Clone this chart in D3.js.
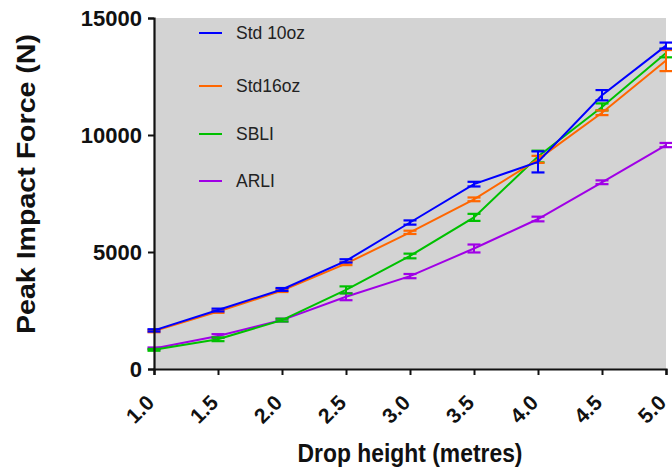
<!DOCTYPE html>
<html>
<head>
<meta charset="utf-8">
<script src="https://cdn.jsdelivr.net/npm/d3@7"></script>
<style>
  body { margin: 0; background: #fff; }
  svg { font-family: "Liberation Sans", Arial, Helvetica, sans-serif; }
</style>
</head>
<body>
<svg id="chart" width="672" height="469"></svg>
<script>
// drop heights (m)
var heights = [1.0, 1.5, 2.0, 2.5, 3.0, 3.5, 4.0, 4.5, 5.0];
var xTicks = ["1.0", "1.5", "2.0", "2.5", "3.0", "3.5", "4.0", "4.5", "5.0"];
var yTicks = [0, 5000, 10000, 15000];

// mean peak force (N) and error per series
var std10 = [1650, 2520, 3400, 4620, 6260, 7900, 8850, 11700, 13820];
var std10Err = [50, 60, 60, 70, 90, 100, 450, 220, 130];
var std16 = [1620, 2450, 3350, 4500, 5840, 7250, 8960, 10950, 13180];
var std16Err = [50, 50, 60, 60, 70, 80, 150, 100, 450];
var sbli = [820, 1270, 2090, 3380, 4830, 6480, 9080, 11200, 13500];
var sbliErr = [40, 80, 60, 150, 100, 150, 250, 150, 180];
var arli = [880, 1410, 2090, 3090, 3970, 5150, 6410, 7980, 9570];
var arliErr = [40, 80, 60, 150, 90, 170, 100, 80, 90];

var names = ["Std 10oz", "Std16oz", "SBLI", "ARLI"];
var colors = ["#0000ff", "#ff6600", "#00c000", "#a000e6"];

(function () {
  var series = [
    { name: names[0], v: std10, e: std10Err, c: colors[0] },
    { name: names[1], v: std16, e: std16Err, c: colors[1] },
    { name: names[2], v: sbli, e: sbliErr, c: colors[2] },
    { name: names[3], v: arli, e: arliErr, c: colors[3] }
  ];

  var svg = d3.select("#chart");
  var pLeft = 154, pRight = 666, pTop = 18, pBottom = 369;

  var x = d3.scaleLinear().domain([1, 5]).range([pLeft, pRight]);
  var y = d3.scaleLinear().domain([0, 15000]).range([pBottom, pTop]);

  // grey plot area
  svg.append("rect")
    .attr("x", pLeft).attr("y", pTop)
    .attr("width", pRight - pLeft).attr("height", pBottom - pTop)
    .attr("fill", "#d3d3d3");

  // lines + error bars, ARLI first so Std 10oz ends up on top
  var line = d3.line().x(function (d) { return x(d[0]); }).y(function (d) { return y(d[1]); });
  series.slice().reverse().forEach(function (s) {
    var pts = heights.map(function (h, i) { return [h, s.v[i], s.e[i]]; });
    var g = svg.append("g");
    g.append("path").datum(pts)
      .attr("d", line).attr("fill", "none")
      .attr("stroke", s.c).attr("stroke-width", 2);
    var eb = g.selectAll(".eb").data(pts).enter().append("g");
    eb.append("line")
      .attr("x1", function (d) { return x(d[0]); }).attr("x2", function (d) { return x(d[0]); })
      .attr("y1", function (d) { return y(d[1] - d[2]); }).attr("y2", function (d) { return y(d[1] + d[2]); })
      .attr("stroke", s.c).attr("stroke-width", 2);
    [-1, 1].forEach(function (sg) {
      eb.append("line")
        .attr("x1", function (d) { return x(d[0]) - 6.5; }).attr("x2", function (d) { return x(d[0]) + 6.5; })
        .attr("y1", function (d) { return y(d[1] + sg * d[2]); }).attr("y2", function (d) { return y(d[1] + sg * d[2]); })
        .attr("stroke", s.c).attr("stroke-width", 2.2);
    });
  });

  // axes
  var yAxis = svg.append("g").attr("transform", "translate(" + pLeft + ",0)")
    .call(d3.axisLeft(y).tickValues(yTicks).tickSize(6).tickPadding(6).tickFormat(d3.format("d")));
  var xAxis = svg.append("g").attr("transform", "translate(0," + pBottom + ")")
    .call(d3.axisBottom(x).tickValues(heights).tickSize(6).tickFormat(function (d, i) { return xTicks[i]; }));

  [yAxis, xAxis].forEach(function (a) {
    a.select(".domain").attr("stroke", "#111").attr("stroke-width", 2.2);
    a.selectAll(".tick line").attr("stroke", "#111").attr("stroke-width", 2);
  });
  yAxis.selectAll(".tick text")
    .attr("font-size", 22).attr("font-weight", "bold").attr("fill", "#111")
    .attr("font-family", "'Liberation Sans', Arial, sans-serif");
  xAxis.selectAll(".tick text")
    .attr("font-size", 21).attr("font-weight", "bold").attr("fill", "#111")
    .attr("font-family", "'Liberation Sans', Arial, sans-serif")
    .attr("text-anchor", "end").attr("dy", null).attr("y", 0)
    .attr("transform", "translate(1,35) rotate(-45)");

  // axis titles
  svg.append("text")
    .attr("transform", "translate(35,184) rotate(-90)")
    .attr("text-anchor", "middle")
    .attr("font-size", 25).attr("font-weight", "bold").attr("fill", "#111")
    .attr("textLength", 300).attr("lengthAdjust", "spacingAndGlyphs")
    .text("Peak Impact Force (N)");
  svg.append("text")
    .attr("x", 410).attr("y", 462)
    .attr("text-anchor", "middle")
    .attr("font-size", 25).attr("font-weight", "bold").attr("fill", "#111")
    .attr("textLength", 225).attr("lengthAdjust", "spacingAndGlyphs")
    .text("Drop height (metres)");

  // legend
  var legY = [33, 86, 134, 181];
  var leg = svg.selectAll(".leg").data(series).enter().append("g")
    .attr("transform", function (d, i) { return "translate(199," + legY[i] + ")"; });
  leg.append("line").attr("x1", 0).attr("x2", 23)
    .attr("stroke", function (d) { return d.c; }).attr("stroke-width", 2);
  leg.append("text").attr("x", 37).attr("dy", "0.35em")
    .attr("font-size", 17.5).attr("fill", "#222")
    .text(function (d) { return d.name; });
})();
</script>
</body>
</html>
